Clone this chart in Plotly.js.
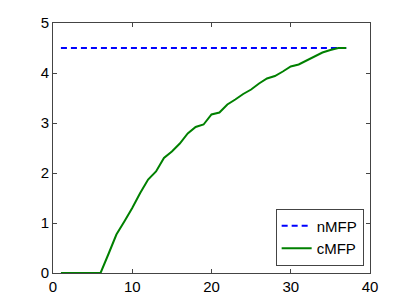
<!DOCTYPE html>
<html><head><meta charset="utf-8">
<script src="https://cdn.plot.ly/plotly-3.0.1.min.js"></script>
<style>html,body{margin:0;padding:0;background:#fff}</style>
</head><body>
<div id="chart" style="width:409px;height:308px"></div>
<script>
var xs = [1,2,3,4,5,6,7,8,9,10,11,12,13,14,15,16,17,18,19,20,21,22,23,24,25,26,27,28,29,30,31,32,33,34,35,36,37];
var nMFP = [4.5,4.5,4.5,4.5,4.5,4.5,4.5,4.5,4.5,4.5,4.5,4.5,4.5,4.5,4.5,4.5,4.5,4.5,4.5,4.5,4.5,4.5,4.5,4.5,4.5,4.5,4.5,4.5,4.5,4.5,4.5,4.5,4.5,4.5,4.5,4.5,4.5];
var cMFP = [0,0,0,0,0,0,0.38,0.77,1.03,1.3,1.6,1.87,2.03,2.3,2.43,2.59,2.79,2.92,2.97,3.17,3.21,3.37,3.47,3.58,3.67,3.79,3.89,3.94,4.03,4.13,4.17,4.25,4.34,4.41,4.46,4.5,4.5];
var xTicks = [0,10,20,30,40];
var yTicks = [0,1,2,3,4,5];

var traces = [
  {x: xs, y: nMFP, name: 'nMFP', mode: 'lines', line: {color: '#0000ff', width: 2, dash: '6px,4px'}},
  {x: xs, y: cMFP, name: 'cMFP', mode: 'lines', line: {color: '#008000', width: 2}}
];
var axisCommon = {
  showgrid: false, zeroline: false, showline: true, mirror: 'ticks',
  linecolor: '#444', linewidth: 1, ticks: 'inside', ticklen: 4, tickcolor: '#444',
  tickfont: {family: 'Liberation Sans, Arial, sans-serif', size: 15, color: '#000'}
};
var layout = {
  width: 409, height: 308,
  margin: {l: 53, r: 39, t: 23, b: 35},
  paper_bgcolor: '#fff', plot_bgcolor: '#fff',
  showlegend: true,
  xaxis: Object.assign({}, axisCommon, {range: [0, 40], tickvals: xTicks, ticktext: xTicks.map(String)}),
  yaxis: Object.assign({}, axisCommon, {range: [0, 5], tickvals: yTicks, ticktext: yTicks.map(String)}),
  legend: {x: 0.98, y: 0.03, xanchor: 'right', yanchor: 'bottom', bordercolor: '#444', borderwidth: 1,
    bgcolor: '#fff', font: {family: 'Liberation Sans, Arial, sans-serif', size: 15, color: '#000'},
    tracegroupgap: 0, itemwidth: 30}
};
Plotly.newPlot('chart', traces, layout, {staticPlot: true, displayModeBar: false});
</script>
</body></html>
